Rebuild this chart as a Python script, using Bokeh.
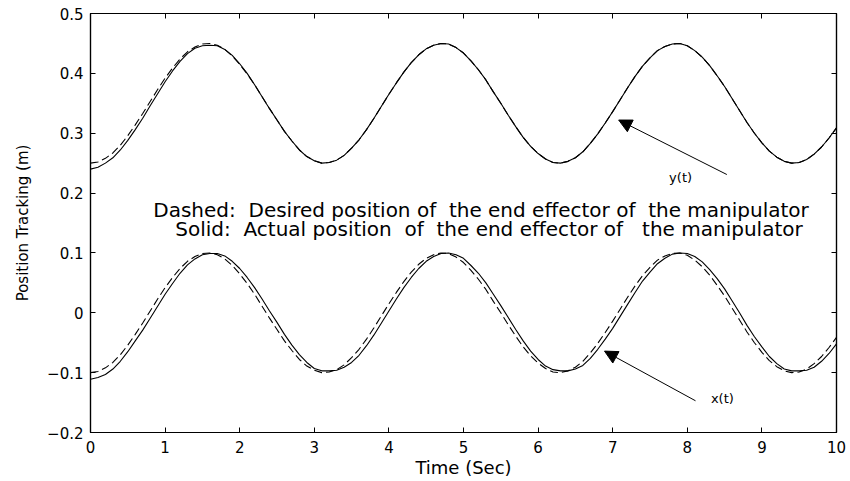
from bokeh.plotting import figure
from bokeh.models import LinearAxis, Label, Arrow, NormalHead, FixedTicker, Range1d
from bokeh.embed import file_html
from bokeh.resources import INLINE

# time samples (s)
t = [round(0.1 * k, 1) for k in range(101)]

# desired x(t) (dashed)
x_desired = [
    -0.100, -0.098, -0.092, -0.083, -0.070, -0.054, -0.036, -0.017, 0.003, 0.023,
    0.042, 0.059, 0.074, 0.086, 0.094, 0.099, 0.100, 0.097, 0.090, 0.079,
    0.065, 0.049, 0.031, 0.011, -0.009, -0.028, -0.047, -0.063, -0.078, -0.089,
    -0.096, -0.100, -0.099, -0.095, -0.087, -0.075, -0.061, -0.044, -0.025, -0.005,
    0.015, 0.034, 0.052, 0.068, 0.081, 0.091, 0.097, 0.100, 0.099, 0.093,
    0.084, 0.071, 0.056, 0.039, 0.019, -0.000, -0.020, -0.039, -0.057, -0.072,
    -0.084, -0.093, -0.099, -0.100, -0.097, -0.091, -0.081, -0.067, -0.051, -0.033,
    -0.014, 0.006, 0.026, 0.045, 0.062, 0.076, 0.088, 0.095, 0.099, 0.100,
    0.096, 0.088, 0.077, 0.063, 0.046, 0.028, 0.008, -0.012, -0.032, -0.050,
    -0.066, -0.080, -0.090, -0.097, -0.100, -0.099, -0.094, -0.085, -0.073, -0.058,
    -0.041,
]

# actual x(t) (solid)
x_actual = [
    -0.111, -0.108, -0.103, -0.094, -0.081, -0.065, -0.047, -0.029, -0.009, 0.011,
    0.031, 0.049, 0.066, 0.080, 0.090, 0.097, 0.099, 0.099, 0.095, 0.086,
    0.074, 0.059, 0.042, 0.023, 0.003, -0.016, -0.036, -0.054, -0.070, -0.083,
    -0.093, -0.097, -0.097, -0.096, -0.091, -0.083, -0.071, -0.055, -0.037, -0.017,
    0.003, 0.023, 0.042, 0.059, 0.074, 0.086, 0.094, 0.099, 0.100, 0.097,
    0.091, 0.079, 0.066, 0.050, 0.031, 0.012, -0.008, -0.028, -0.047, -0.064,
    -0.078, -0.089, -0.095, -0.097, -0.097, -0.094, -0.088, -0.076, -0.061, -0.044,
    -0.026, -0.006, 0.014, 0.034, 0.053, 0.068, 0.082, 0.091, 0.098, 0.100,
    0.099, 0.094, 0.085, 0.072, 0.057, 0.040, 0.020, 0.000, -0.021, -0.040,
    -0.057, -0.073, -0.085, -0.094, -0.097, -0.097, -0.096, -0.091, -0.081, -0.068,
    -0.052,
]

# desired y(t) (dashed)
y_desired = [
    0.250, 0.252, 0.258, 0.267, 0.280, 0.296, 0.314, 0.333, 0.353, 0.373,
    0.392, 0.409, 0.424, 0.436, 0.444, 0.449, 0.450, 0.447, 0.440, 0.429,
    0.415, 0.399, 0.381, 0.361, 0.341, 0.322, 0.303, 0.287, 0.272, 0.261,
    0.254, 0.250, 0.251, 0.255, 0.263, 0.275, 0.289, 0.306, 0.325, 0.345,
    0.365, 0.384, 0.402, 0.418, 0.431, 0.441, 0.447, 0.450, 0.449, 0.443,
    0.434, 0.421, 0.406, 0.389, 0.369, 0.350, 0.330, 0.311, 0.293, 0.278,
    0.266, 0.257, 0.251, 0.250, 0.253, 0.259, 0.269, 0.283, 0.299, 0.317,
    0.336, 0.356, 0.376, 0.395, 0.412, 0.426, 0.438, 0.445, 0.449, 0.450,
    0.446, 0.438, 0.427, 0.413, 0.396, 0.378, 0.358, 0.338, 0.318, 0.300,
    0.284, 0.270, 0.260, 0.253, 0.250, 0.251, 0.256, 0.265, 0.277, 0.292,
    0.309,
]

# actual y(t) (solid)
y_actual = [
    0.240, 0.243, 0.250, 0.259, 0.272, 0.288, 0.306, 0.325, 0.346, 0.366,
    0.386, 0.404, 0.420, 0.433, 0.442, 0.446, 0.447, 0.446, 0.440, 0.430,
    0.416, 0.400, 0.381, 0.361, 0.341, 0.322, 0.303, 0.287, 0.272, 0.261,
    0.254, 0.250, 0.251, 0.255, 0.263, 0.275, 0.289, 0.306, 0.325, 0.345,
    0.365, 0.384, 0.402, 0.418, 0.431, 0.441, 0.447, 0.450, 0.449, 0.443,
    0.434, 0.421, 0.406, 0.389, 0.369, 0.350, 0.330, 0.311, 0.293, 0.278,
    0.266, 0.257, 0.251, 0.250, 0.253, 0.259, 0.269, 0.283, 0.299, 0.317,
    0.336, 0.356, 0.376, 0.395, 0.412, 0.426, 0.438, 0.445, 0.449, 0.450,
    0.446, 0.438, 0.427, 0.413, 0.396, 0.378, 0.358, 0.338, 0.318, 0.300,
    0.284, 0.270, 0.260, 0.253, 0.250, 0.251, 0.256, 0.265, 0.277, 0.292,
    0.309,
]

x_ticks = [0, 1, 2, 3, 4, 5, 6, 7, 8, 9, 10]
y_ticks = [-0.2, -0.1, 0, 0.1, 0.2, 0.3, 0.4, 0.5]
y_tick_labels = ["\u22120.2", "\u22120.1", "0", "0.1", "0.2", "0.3", "0.4", "0.5"]

NB = "\u00a0"
note_dashed = f"Dashed:{NB} Desired position of{NB} the end effector of{NB} the manipulator"
note_solid = f"Solid:{NB} Actual position{NB} of{NB} the end effector of{NB}{NB} the manipulator"

FONT = "DejaVu Sans"

p = figure(width=846, height=481, output_backend="svg", toolbar_location=None,
           x_range=Range1d(0, 10), y_range=Range1d(-0.2, 0.5),
           min_border_left=90, min_border_right=10, min_border_top=13, min_border_bottom=49)
p.background_fill_color = "white"
p.border_fill_color = "white"
p.outline_line_color = "black"
p.outline_line_width = 1.2
p.xgrid.visible = False
p.ygrid.visible = False

def style_axis(ax):
    ax.axis_line_color = "black"
    ax.axis_line_width = 1.2
    ax.major_tick_in = 5
    ax.major_tick_out = 0
    ax.major_tick_line_color = "black"
    ax.major_tick_line_width = 1
    ax.minor_tick_line_color = None
    ax.major_label_text_font = FONT
    ax.major_label_text_color = "black"
    ax.axis_label_text_font = FONT
    ax.axis_label_text_font_style = "normal"
    ax.axis_label_text_color = "black"

xa = p.xaxis[0]
ya = p.yaxis[0]
xa.ticker = FixedTicker(ticks=x_ticks)
ya.ticker = FixedTicker(ticks=y_ticks)
ya.major_label_overrides = {v: s for v, s in zip(y_ticks, y_tick_labels)}
style_axis(xa)
style_axis(ya)
xa.axis_label = "Time (Sec)"
ya.axis_label = "Position Tracking (m)"
xa.major_label_text_font_size = "15px"
ya.major_label_text_font_size = "15px"
xa.axis_label_text_font_size = "18px"
ya.axis_label_text_font_size = "15px"
xa.major_label_standoff = 8
xa.axis_label_standoff = 1
ya.major_label_standoff = 7
ya.axis_label_standoff = 12

top = LinearAxis(ticker=FixedTicker(ticks=x_ticks))
right = LinearAxis(ticker=FixedTicker(ticks=y_ticks))
style_axis(top)
style_axis(right)
top.major_label_overrides = {v: "" for v in x_ticks}
right.major_label_overrides = {v: "" for v in y_ticks}
top.major_label_standoff = 0
right.major_label_standoff = 0
p.add_layout(top, "above")
p.add_layout(right, "right")

p.line(t, y_desired, line_color="black", line_width=1.1, line_dash="8 4")
p.line(t, y_actual, line_color="black", line_width=1.1)
p.line(t, x_desired, line_color="black", line_width=1.1, line_dash="8 4")
p.line(t, x_actual, line_color="black", line_width=1.1)

p.add_layout(Label(x=5.235, y=0.1725, text=note_dashed,
                   text_align="center", text_baseline="middle", text_font=FONT,
                   text_font_size="20px", text_color="black"))
p.add_layout(Label(x=5.342, y=0.1407, text=note_solid,
                   text_align="center", text_baseline="middle", text_font=FONT,
                   text_font_size="20px", text_color="black"))

p.add_layout(Arrow(end=NormalHead(size=13, fill_color="black", line_color="black"),
                   x_start=8.53, y_start=0.231, x_end=7.08, y_end=0.322,
                   line_color="black", line_width=1))
p.add_layout(Arrow(end=NormalHead(size=13, fill_color="black", line_color="black"),
                   x_start=8.11, y_start=-0.147, x_end=6.89, y_end=-0.064,
                   line_color="black", line_width=1))
p.add_layout(Label(x=7.91, y=0.226, text="y(t)", text_align="center", text_baseline="middle",
                   text_font=FONT, text_font_size="13px", text_color="black"))
p.add_layout(Label(x=8.47, y=-0.144, text="x(t)", text_align="center", text_baseline="middle",
                   text_font=FONT, text_font_size="13px", text_color="black"))

open("out.html", "w").write(file_html(p, INLINE))
